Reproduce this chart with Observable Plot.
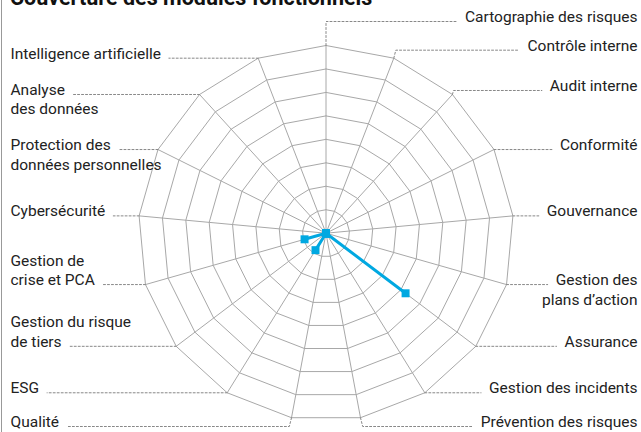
<!DOCTYPE html>
<html><head><meta charset="utf-8">
<script src="https://cdn.jsdelivr.net/npm/d3@7"></script>
<script src="https://cdn.jsdelivr.net/npm/@observablehq/plot@0.6"></script>
<style>
html,body{margin:0;padding:0;background:#fff;}
#wrap{position:relative;width:641px;height:432px;overflow:hidden;font-family:Roboto,sans-serif;}
#title{position:absolute;left:10px;top:-13px;font:bold 21.5px/21px Roboto;color:#111;white-space:nowrap;}
#border{position:absolute;left:1px;top:0;width:1px;height:432px;background:#999;}
#chart{position:absolute;left:0;top:0;}
</style></head><body>
<div id="wrap"><div id="chart"></div><div id="title">Couverture des modules fonctionnels</div><div id="border"></div></div>
<script>
const modules = ["Cartographie des risques", "Contrôle interne", "Audit interne", "Conformité", "Gouvernance", "Gestion des plans d’action", "Assurance", "Gestion des incidents", "Prévention des risques", "Qualité", "ESG", "Gestion du risque de tiers", "Gestion de crise et PCA", "Cybersécurité", "Protection des données personnelles", "Analyse des données", "Intelligence artificielle"];
const labelLines = [["Cartographie des risques"], ["Contrôle interne"], ["Audit interne"], ["Conformité"], ["Gouvernance"], ["Gestion des","plans d’action"], ["Assurance"], ["Gestion des incidents"], ["Prévention des risques"], ["Qualité"], ["ESG"], ["Gestion du risque","de tiers"], ["Gestion de","crise et PCA"], ["Cybersécurité"], ["Protection des","données personnelles"], ["Analyse","des données"], ["Intelligence artificielle"]];
const coverage = [0,0,0,0,0,0,4.25,0,0,0,0.85,0,0.95,0,0,0,0];
const ringLevels = [1,2,3,4,5,6,7,8];

(async function(){
  const FS = 15.5;
  try { await document.fonts.load(FS+"px Roboto"); } catch(e){}
  const W=641,H=432,cx=325.5,cy=232.7,R=187.7,maxV=8,k=R/maxV;
  const N=modules.length;
  const ang = i => i*2*Math.PI/N;
  const ux = px => (px-cx)/k, uy = py => (cy-py)/k;
  const pxX = u => cx+u*k, pxY = u => cy-u*k;
  const ctx = document.createElement("canvas").getContext("2d");
  ctx.font = FS+"px Roboto";
  const textW = s => ctx.measureText(s).width;

  const rings = ringLevels.flatMap(L => d3.range(N+1).map(i => ({ring:L, x:L*Math.sin(ang(i%N)), y:L*Math.cos(ang(i%N))})));
  const spokes = modules.map((m,i)=>({x2:maxV*Math.sin(ang(i)), y2:maxV*Math.cos(ang(i))}));
  const pts = coverage.map((v,i)=>({name:modules[i], x:v*Math.sin(ang(i)), y:v*Math.cos(ang(i))}));

  const labelRows=[], leaders=[];
  modules.forEach((m,i)=>{
    const right = i < N/2;
    const vx = pxX(maxV*Math.sin(ang(i))), vy = pxY(maxV*Math.cos(ang(i)));
    let ly = vy;
    if (i===0) ly = 21; else if (i===1) ly = vy-8; else if (i===2) ly = vy-4; else if (vy > 410) ly = 426;
    const lines = labelLines[i];
    const a = right ? 0 : (vy < cy ? 0 : lines.length-1);
    lines.forEach((t,j)=> labelRows.push({text:t, right, y: uy(ly - 4.5 + (j-a)*19.5)}));
    const w = textW(lines[a]);
    const bendX = vx + (right?1:-1)*Math.abs(vy-ly)*(i===0?0:0.25);
    const endX = right ? (W-4-w-8) : (10+w+8);
    leaders.push([{x:vx,y:vy},{x:bendX,y:ly},{x:endX,y:ly}].map(p=>({id:i,x:ux(p.x),y:uy(p.y)})));
  });

  const chart = Plot.plot({
    width:W, height:H, margin:0,
    x:{domain:[ux(0), ux(W)], axis:null},
    y:{domain:[uy(H), uy(0)], axis:null},
    style:{fontFamily:"Roboto", fontSize:FS+"px", color:"#222", background:"transparent"},
    marks:[
      Plot.line(rings,{x:"x",y:"y",z:"ring",stroke:"#a8a8a8",strokeWidth:1}),
      Plot.link(spokes,{x1:()=>0,y1:()=>0,x2:"x2",y2:"y2",stroke:"#a8a8a8",strokeWidth:1}),
      Plot.line(leaders.flat(),{x:"x",y:"y",z:"id",stroke:"#888",strokeDasharray:"2,2",strokeWidth:1}),
      Plot.line(pts,{x:"x",y:"y",curve:"linear-closed",stroke:"#00a8e1",strokeWidth:3}),
      Plot.dot(pts,{x:"x",y:"y",symbol:"square",fill:"#00a8e1",r:4.5}),
      Plot.text(labelRows.filter(d=>d.right),{y:"y",text:"text",frameAnchor:"right",textAnchor:"end",dx:-4,fill:"#222",fontSize:FS}),
      Plot.text(labelRows.filter(d=>!d.right),{y:"y",text:"text",frameAnchor:"left",textAnchor:"start",dx:10,fill:"#222",fontSize:FS})
    ]
  });
  document.getElementById("chart").appendChild(chart);
})();
</script>
</body></html>
